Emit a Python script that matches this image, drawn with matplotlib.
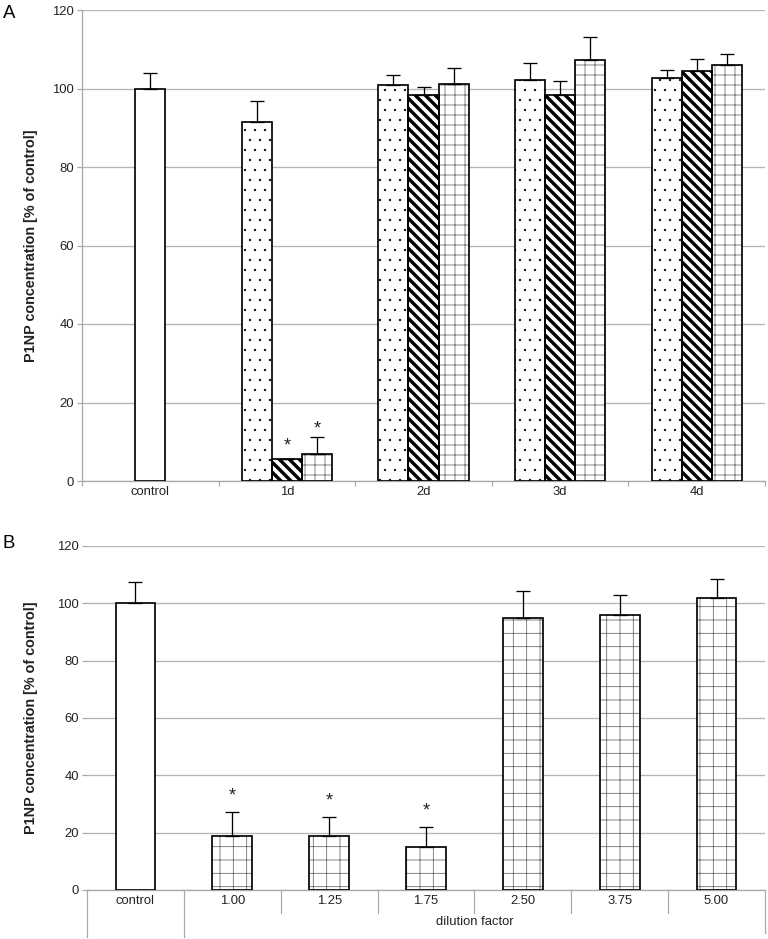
import matplotlib
matplotlib.use('Agg')
import matplotlib.pyplot as plt
import matplotlib.transforms as mtransforms
import numpy as np

plt.rcParams['font.family'] = ['Liberation Sans', 'DejaVu Sans']

# -----------------------------
# Panel A data (time course)
# -----------------------------
a_groups = ['control', '1d', '2d', '3d', '4d']
a_control = 100.0
a_control_err = 4.0
a_dots = [91.5, 100.9, 102.2, 102.7]
a_dots_err = [5.2, 2.5, 4.3, 2.1]
a_stripes = [5.5, 98.3, 98.4, 104.4]
a_stripes_err = [0.0, 2.0, 3.5, 3.2]
a_grid = [7.0, 101.2, 107.2, 106.0]
a_grid_err = [4.2, 4.1, 5.9, 2.8]
a_stripes_sig = [True, False, False, False]
a_grid_sig = [True, False, False, False]

# -----------------------------
# Panel B data (dilution factor)
# -----------------------------
b_labels = ['control', '1.00', '1.25', '1.75', '2.50', '3.75', '5.00']
b_values = [100.0, 18.8, 18.8, 15.0, 95.0, 96.0, 102.0]
b_err = [7.5, 8.4, 6.7, 7.0, 9.4, 7.0, 6.5]
b_sig = [False, True, True, True, False, False, False]

DPI = 240
PX = 72 / DPI          # one pixel in points
GRID_C = '#b5b5b5'
AXIS_C = '#a8a8a8'
TXT_C = '#222222'
FS = 3.9


def hatched_bar(ax, x, h, w, hatch, hcolor, hlw):
    with plt.rc_context({'hatch.linewidth': hlw}):
        bars = ax.bar(x, h, w, color='white', edgecolor=hcolor, linewidth=0,
                      hatch=hatch, zorder=2)
    for p in bars:
        if hasattr(p, 'set_hatch_linewidth'):
            p.set_hatch_linewidth(hlw)
    ax.bar(x, h, w, fill=False, edgecolor='black', linewidth=1.7 * PX, zorder=3)


def err_up(ax, x, h, err):
    ax.errorbar(x, h, yerr=[np.zeros(len(err)), err], fmt='none', ecolor='black',
                elinewidth=1.3 * PX, capsize=7 * PX, capthick=1.3 * PX, zorder=4)


def stars(ax, x, h, err, sig, off_px):
    for xi, hi, ei, s in zip(x, h, err, sig):
        if s:
            ax.annotate('*', xy=(xi, hi + ei), xytext=(0, off_px * PX),
                        textcoords='offset points', ha='center', va='center',
                        fontsize=5.4, color=TXT_C)


def style_y(ax):
    ax.set_ylim(0, 120)
    ax.set_yticks(np.arange(0, 121, 20))
    ax.grid(axis='y', color=GRID_C, linewidth=1.3 * PX)
    ax.set_axisbelow(True)
    ax.tick_params(axis='y', length=5 * PX, width=1.2 * PX, color=AXIS_C,
                   labelsize=FS, labelcolor=TXT_C, pad=3 * PX)
    ax.set_ylabel('P1NP concentration [% of control]', fontsize=4.3,
                  fontweight='bold', color=TXT_C)
    for s in ['top', 'right']:
        ax.spines[s].set_visible(False)
    ax.spines['bottom'].set_color(AXIS_C)
    ax.spines['bottom'].set_linewidth(1.3 * PX)
    ax.spines['left'].set_color(AXIS_C)
    ax.spines['left'].set_linewidth(1.3 * PX)


fig = plt.figure(figsize=(768 / DPI, 939 / DPI), dpi=DPI)
axA = fig.add_axes([82 / 768, 1 - 481 / 939, 683 / 768, 471 / 939])
axB = fig.add_axes([87 / 768, 1 - 890 / 939, 678 / 768, 344 / 939])

# -----------------------------
# Panel A
# -----------------------------
wA = 0.22
xg = np.arange(1, len(a_groups))
axA.bar([0], [a_control], wA, color='white', edgecolor='black',
        linewidth=1.7 * PX, zorder=3)
err_up(axA, [0], [a_control], [a_control_err])

hatched_bar(axA, xg - wA, a_dots, wA, '....', 'black', 0.1)
hatched_bar(axA, xg, a_stripes, wA, '\\' * 8, 'black', 3.4 * PX)
hatched_bar(axA, xg + wA, a_grid, wA, '++++', '#6a6a6a', 0.8 * PX)
err_up(axA, xg - wA, a_dots, a_dots_err)
err_up(axA, xg, a_stripes, a_stripes_err)
err_up(axA, xg + wA, a_grid, a_grid_err)
stars(axA, xg, a_stripes, a_stripes_err, a_stripes_sig, 13)
stars(axA, xg + wA, a_grid, a_grid_err, a_grid_sig, 8)

axA.set_xlim(-0.5, len(a_groups) - 0.5)
axA.set_xticks(np.arange(len(a_groups)))
axA.set_xticklabels(a_groups)
axA.set_xticks(np.arange(len(a_groups) + 1) - 0.5, minor=True)
axA.tick_params(axis='x', which='major', length=0, pad=5 * PX,
                labelsize=FS, labelcolor=TXT_C)
axA.tick_params(axis='x', which='minor', length=5 * PX, width=1.2 * PX,
                color=AXIS_C)
style_y(axA)
axA.yaxis.set_label_coords(-0.064, 0.5)

# -----------------------------
# Panel B
# -----------------------------
wB = 0.41
xb = np.arange(len(b_labels))
axB.bar(xb[:1], b_values[:1], wB, color='white', edgecolor='black',
        linewidth=1.7 * PX, zorder=3)
hatched_bar(axB, xb[1:], b_values[1:], wB, '+++', '#6a6a6a', 0.8 * PX)
err_up(axB, xb, b_values, b_err)
stars(axB, xb, b_values, b_err, b_sig, 16)

axB.set_xlim(-0.5, len(b_labels) - 0.5)
axB.set_xticks(xb)
axB.set_xticklabels(b_labels)
axB.tick_params(axis='x', length=0, pad=5 * PX, labelsize=FS, labelcolor=TXT_C)
style_y(axB)
axB.spines['left'].set_visible(False)
axB.yaxis.set_label_coords(-0.072, 0.5)

# table-like category separators below panel B
trans = mtransforms.blended_transform_factory(axB.transData, axB.transAxes)
h_px = 344
for xs in np.arange(len(b_labels) + 1) - 0.5:
    if xs < 1:
        bottom = -47 / h_px
    elif xs > len(b_labels) - 1:
        bottom = -43 / h_px
    else:
        bottom = -23 / h_px
    axB.plot([xs, xs], [0, bottom], color=AXIS_C, linewidth=1.2 * PX,
             transform=trans, clip_on=False)
axB.text((0.5 + len(b_labels) - 0.5) / 2, -32 / h_px, 'dilution factor',
         transform=trans, ha='center', va='center', fontsize=FS, color=TXT_C)

fig.text(3 / 768, 1 - 13 / 939, 'A', fontsize=5.6, va='center', ha='left')
fig.text(3 / 768, 1 - 543 / 939, 'B', fontsize=5.6, va='center', ha='left')

fig.savefig('out.png', dpi=DPI)
